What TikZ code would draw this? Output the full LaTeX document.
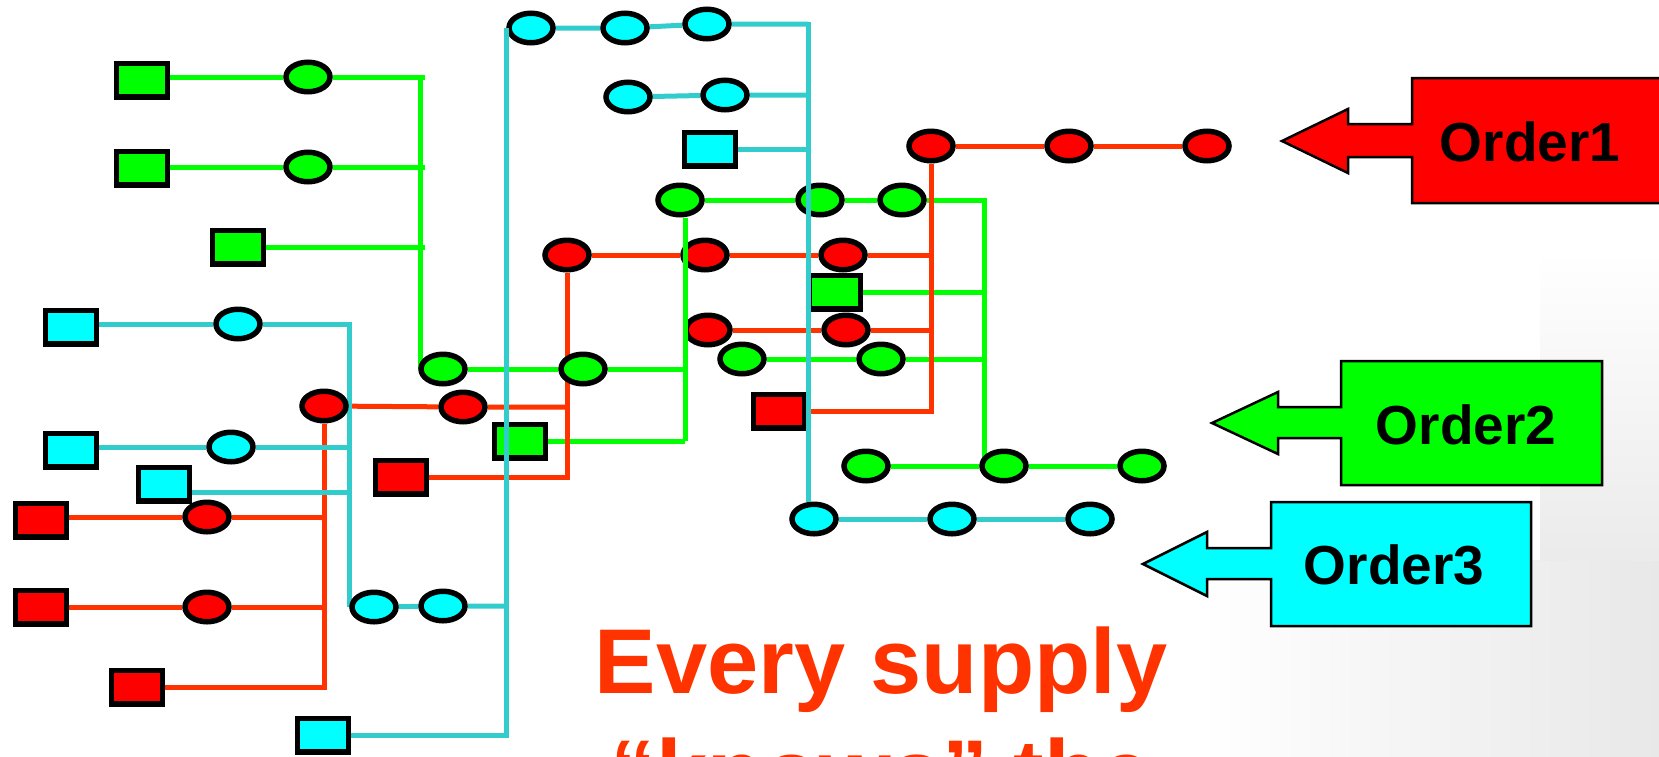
\documentclass[tikz,border=0pt]{standalone}
\usepackage{fontspec}
\setmainfont{Liberation Sans}
\usetikzlibrary{shapes.geometric}
\definecolor{gfill}{RGB}{0,255,0}
\definecolor{cfill}{RGB}{0,255,255}
\definecolor{rfill}{RGB}{255,0,0}
\definecolor{gline}{RGB}{0,255,0}
\definecolor{cline}{RGB}{51,204,204}
\definecolor{rline}{RGB}{255,51,0}
\definecolor{txtred}{RGB}{255,51,0}
\pgfdeclarelayer{bg}
\pgfdeclarelayer{fg}
\pgfsetlayers{bg,main,fg}
\begin{document}
\begin{tikzpicture}[x=1pt,y=-1pt,
  ell/.style={ellipse,draw=black,line width=5.5pt,inner sep=0pt,minimum width=44pt,minimum height=29.5pt},
  sq/.style={rectangle,draw=black,line width=5.5pt,inner sep=0pt,minimum width=51pt,minimum height=33.5pt},
  gE/.style={ell,fill=gfill}, gS/.style={sq,fill=gfill},
  rE/.style={ell,fill=rfill}, rS/.style={sq,fill=rfill},
  cE/.style={ell,fill=cfill}, cS/.style={sq,fill=cfill},
  gl/.style={draw=gline,line width=5pt},
  rl/.style={draw=rline,line width=5pt},
  cl/.style={draw=cline,line width=5pt},
  ordr/.style={draw=black,line width=2.5pt,line join=miter},
  ordertext/.style={font=\fontsize{55}{60}\selectfont\bfseries,inner sep=0pt,text=black},
  bigtext/.style={font=\fontsize{92}{110}\selectfont\bfseries,inner sep=0pt,text=txtred,anchor=base}
]
\useasboundingbox (0,0) rectangle (1659,756);

% ---------- nodes: green squares ----------
\node[gS] (gs1) at (142,80) {};
\node[gS] (gs2) at (142,168) {};
\node[gS] (gs3) at (238,247) {};
\node[gS] (gs4) at (520,441) {};
\node[gS] (gs5) at (835,292) {};
% ---------- cyan ----------
\node[cE] (ce1) at (814,519) {};
\node[cE] (ce2) at (952,519) {};
\node[cE] (ce3) at (1090,519) {};
\node[cE] (ce4) at (531,28) {};
\node[cE] (ce5) at (625,28) {};
\node[cE] (ce6) at (707,24) {};
\node[cE] (ce7) at (628,97) {};
\node[cE] (ce8) at (725,95) {};
\node[cS] (cs1) at (710,149) {};
\node[cE] (ce9) at (374,607) {};
\node[cE] (ce10) at (443,606) {};
\node[cS] (cs2) at (323,735) {};
\node[cS] (cs3) at (71,327) {};
\node[cE] (ce11) at (238,324) {};
\node[cS] (cs4) at (71,450) {};
\node[cE] (ce12) at (231,447) {};
\node[cS] (cs5) at (164,484) {};
% ---------- red ----------
\node[rE] (re1) at (931,146) {};
\node[rE] (re2) at (1069,146) {};
\node[rE] (re3) at (1207,146) {};
\node[rE] (re4) at (567,255) {};
\node[rE] (re5) at (705,255) {};
\node[rE] (re6) at (843,255) {};
\node[rE] (re7) at (708,330) {};
\node[rE] (re8) at (846,330) {};
\node[rS] (rs1) at (779,411) {};
\node[rE] (re9) at (463,407) {};
\node[rE] (re10) at (324,406) {};
\node[rS] (rs2) at (401,477) {};
\node[rS] (rs3) at (41,520) {};
\node[rE] (re11) at (207,517) {};
\node[rS] (rs4) at (41,607) {};
\node[rE] (re12) at (207,607) {};
\node[rS] (rs5) at (137,687) {};
% ---------- green ellipses ----------
\node[gE] (ge1) at (308,77) {};
\node[gE] (ge2) at (308,167) {};
\node[gE] (ge3) at (443,369) {};
\node[gE] (ge4) at (583,369) {};
\node[gE] (ge5) at (680,200) {};
\node[gE] (ge6) at (820,200) {};
\node[gE] (ge7) at (902,200) {};
\node[gE] (ge8) at (742,359) {};
\node[gE] (ge9) at (881,359) {};
\node[gE] (ge10) at (866,466) {};
\node[gE] (ge11) at (1004,466) {};
\node[gE] (ge12) at (1142,466) {};

% ---------- junction coordinates ----------
\coordinate (gx) at (425,0);
\coordinate (gb1) at (420,77);
\coordinate (gb2) at (685,441);
\coordinate (gb3) at (984,0);
\coordinate (cb1) at (808,24);
\coordinate (cb2) at (349,323);
\coordinate (cj5) at (349,492);

% ---------- order shapes ----------
\draw[ordr,fill=rfill] (1282,141) -- (1348,109) -- (1348,124) -- (1412,124) -- (1412,78) -- (1690,78)
  -- (1690,203) -- (1412,203) -- (1412,157) -- (1348,157) -- (1348,173) -- cycle;
\node[ordertext] (o1) at (1530,142) {Order1};
\draw[ordr,fill=gfill] (1212,423) -- (1278,392) -- (1278,407) -- (1341,407) -- (1341,361) -- (1602,361)
  -- (1602,485) -- (1341,485) -- (1341,438) -- (1278,438) -- (1278,454) -- cycle;
\node[ordertext] (o2) at (1466,425) {Order2};
\draw[ordr,fill=cfill] (1143,564) -- (1207,532) -- (1207,548) -- (1271,548) -- (1271,502) -- (1531,502)
  -- (1531,626) -- (1271,626) -- (1271,579) -- (1207,579) -- (1207,596) -- cycle;
\node[ordertext] (o3) at (1394,565) {Order3};

% ---------- text ----------
\node[bigtext] (t1) at (881,693) {Every supply};
\node[bigtext] (t2) at (881,804) {“knows” the};

% ---------- connectors under the nodes ----------
\begin{pgfonlayer}{bg}
\shade[left color=white,right color=black!9] (1200,560) rectangle (1659,756);
\shade[top color=white,bottom color=white!92!black] (1540,250) rectangle (1659,560);
% green
\draw[gl] (gs1.center |- ge1) -- (ge1) -- (ge1 -| gx);
\draw[gl] (gs2.center |- ge2) -- (ge2) -- (ge2 -| gx);
\draw[gl] (gs3) -- (gs3 -| gx);
\draw[gl] (gb1) -- (gb1 |- ge3);
\draw[gl] (ge3) -- (ge4) -- (ge4 -| gb2);
\draw[gl] (gs4) -- (gb2);
\draw[gl] (ge5) -- (ge6) -- (ge7) -- (ge7 -| gb3) -- (gb3 |- ge11);
\draw[gl] (gs5) -- (gs5 -| gb3);
\draw[gl] (ge8) -- (ge9) -- (ge9 -| gb3);
\draw[gl] (ge10) -- (ge11) -- (ge12);
% red
\draw[rl] (re1) -- (re2) -- (re3);
\draw[rl] (re1) -- (re1 |- rs1) -- (rs1);
\draw[rl] (re4) -- (re5) -- (re6) -- (re6 -| re1);
\draw[rl] (re7) -- (re8) -- (re8 -| re1);
\draw[rl] (re10) -- (re9) -- (re9 -| re4);
\draw[rl] (re4) -- (re4 |- rs2) -- (rs2);
\draw[rl] (re10) -- (re10 |- rs5) -- (rs5);
\draw[rl] (rs3.center |- re11) -- (re11) -- (re11 -| re10);
\draw[rl] (rs4) -- (re12) -- (re12 -| re10);
% cyan
\draw[cl] (ce1) -- (ce2) -- (ce3);
\draw[cl] (ce4) -- (ce5) -- (ce6) -- (cb1);
\draw[cl] (ce7) -- (ce8) -- (ce8 -| cb1);
\draw[cl] (cs1) -- (cs1 -| cb1);
\draw[cl] (cs2) -- (cs2 -| ce4.west);
\draw[cl] (ce9) -- (ce10) -- (ce10 -| ce4.west);
\draw[cl] (cs3.center |- ce11) -- (ce11) -- (ce11 -| cb2) -- (cb2 |- ce9);
\draw[cl] (cs4.center |- ce12) -- (ce12) -- (ce12 -| cb2);
\draw[cl] (cs5.center |- cj5) -- (cj5);
\end{pgfonlayer}

% ---------- connectors crossing over nodes ----------
\begin{pgfonlayer}{fg}
\draw[gl] ([xshift=5pt]ge5.south) -- (gb2);
\draw[cl] ([yshift=2.5pt]cb1) -- (cb1 |- ce1.north);
\draw[cl] (ce4.west) -- ([yshift=-2.5pt]ce4.west |- cs2);
\end{pgfonlayer}
\end{tikzpicture}
\end{document}
